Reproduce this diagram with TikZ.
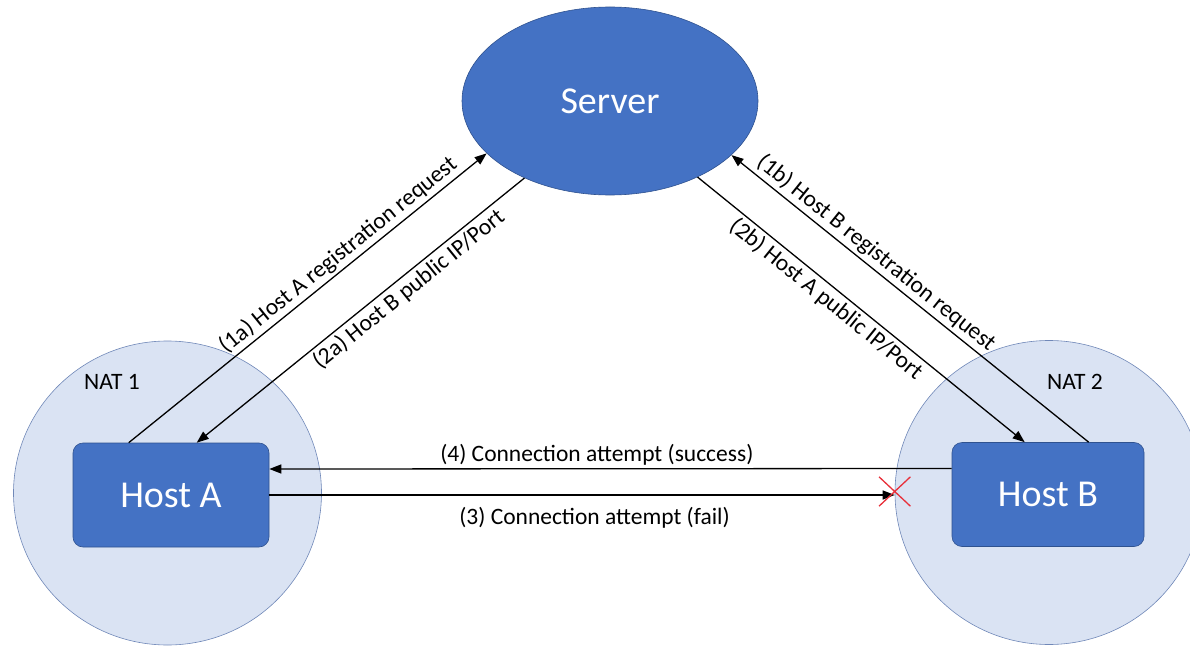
\documentclass[tikz,border=0pt]{standalone}
\usepackage{fontspec}
\setmainfont{Carlito}
\usetikzlibrary{positioning,shapes.geometric,shapes.misc,arrows.meta}
\definecolor{hostblue}{HTML}{4472C4}
\definecolor{hostedge}{HTML}{2F528F}
\definecolor{natfill}{HTML}{DAE3F3}
\definecolor{natedge}{HTML}{7088B8}
\definecolor{failred}{HTML}{E8303A}

\begin{document}
\begin{tikzpicture}[x=1pt,y=-1pt,
  nat/.style={ellipse, draw=natedge, fill=natfill, line width=0.6pt,
    minimum width=308pt, minimum height=304pt, inner sep=0pt},
  host/.style={rectangle, rounded corners=10pt, draw=hostedge, fill=hostblue,
    line width=0.6pt, minimum height=104pt, text=white,
    font=\fontsize{38}{40}\selectfont},
  msg/.style={line width=1.3pt, -{Triangle[length=12pt,width=9pt]}},
  lbl/.style={font=\fontsize{23.5}{25}\selectfont, inner sep=3pt}]
\clip (0,0) rectangle (1190,647);
%----------------------------------
\node[nat] (nat1) at (167.5,493) {};
\node[nat] (nat2) at (1049,492.5) {};
\node[lbl] (nat1lbl) at (112,382) {NAT 1};
\node[lbl] (nat2lbl) at (1075,382) {NAT 2};
%----------------------------------
\node[host, minimum width=196pt] (hostA) at (171,495) {Host A};
\node[host, minimum width=192pt] (hostB) at (1048,494.5) {Host B};
\node[ellipse, draw=hostedge, fill=hostblue, line width=0.6pt, text=white,
  minimum width=296pt, minimum height=188pt,
  font=\fontsize{38}{40}\selectfont] (server) at (610,101) {Server};
%----------------------------------
\draw[msg] ([xshift=56pt]hostA.north west) -- (server.203.4)
  node[lbl, sloped, above, pos=0.61] {(1a) Host A registration request};
\draw[msg] (server.222.2) -- ([xshift=124pt]hostA.north west)
  node[lbl, sloped, below, pos=0.38] {(2a) Host B public IP/Port};
\draw[msg] (server.319.5) -- ([xshift=73pt]hostB.north west)
  node[lbl, sloped, below, pos=0.42] {(2b) Host A public IP/Port};
\draw[msg] ([xshift=137pt]hostB.north west) -- (server.336.6)
  node[lbl, sloped, above, pos=0.62] {(1b) Host B registration request};
%----------------------------------
\coordinate (fail) at ([yshift=1pt]nat2.west);
\draw[msg] ([yshift=26pt]hostB.west) -- ([yshift=26pt]hostA.east)
  node[lbl, above, pos=0.52] {(4) Connection attempt (success)};
\draw[msg] (hostA.east) -- (hostA.east -| fail)
  node[lbl, below=9pt, pos=0.52] {(3) Connection attempt (fail)};
\node[cross out, draw=failred, line width=1.3pt, minimum width=30pt,
  minimum height=28pt, inner sep=0pt] (cross) at (fail) {};
\end{tikzpicture}
\end{document}
